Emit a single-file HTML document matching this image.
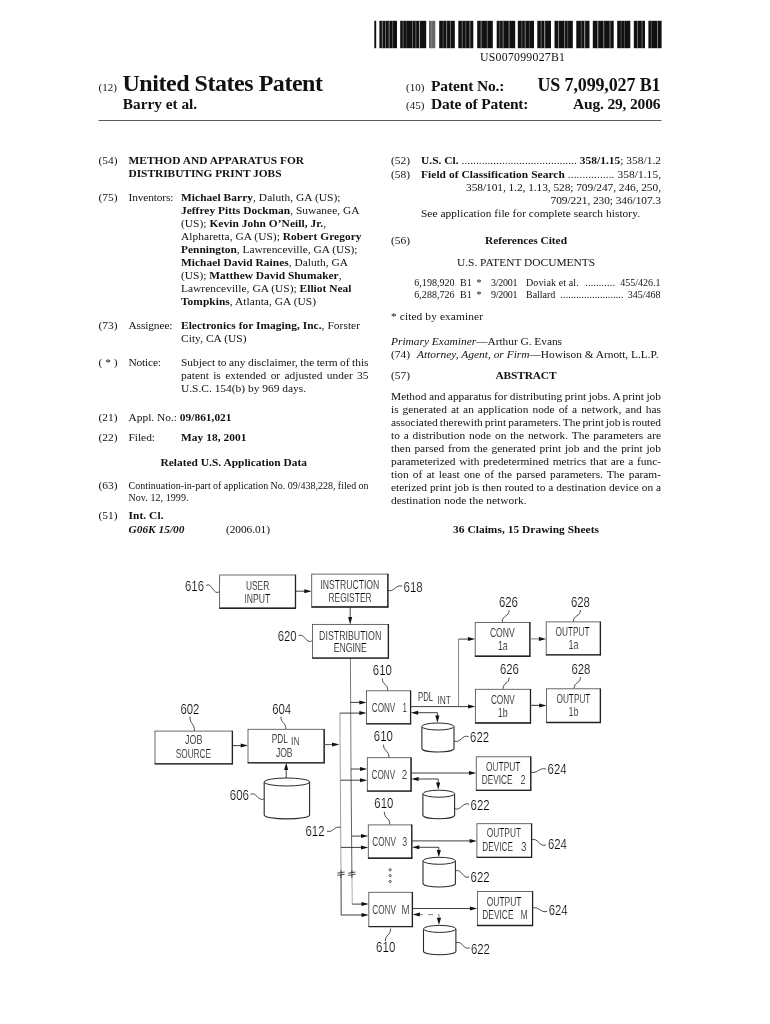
<!DOCTYPE html>
<html><head><meta charset="utf-8"><title>US 7,099,027 B1</title>
<style>
html,body{margin:0;padding:0;background:#fff;}
body{width:770px;height:1024px;overflow:hidden;font-family:"Liberation Serif",serif;}
svg{display:block;will-change:transform;filter:grayscale(1);}
svg text{font-family:"Liberation Serif",serif;fill:#111;white-space:pre;}
svg .d text{font-family:"Liberation Sans",sans-serif;fill:#000;stroke:#fff;stroke-width:0.22px;}
</style></head><body>
<svg width="770" height="1024" viewBox="0 0 770 1024">
<rect width="770" height="1024" fill="#fff"/>
<g><rect x="374.3" y="20.8" width="1.9" height="27.4" fill="#111"/><rect x="379.4" y="20.8" width="17.6" height="27.4" fill="#111"/><rect x="381.9" y="20.8" width="0.8" height="27.4" fill="#fff" opacity="0.6"/><rect x="385.3" y="20.8" width="0.6" height="27.4" fill="#fff" opacity="0.6"/><rect x="388.7" y="20.8" width="0.8" height="27.4" fill="#fff" opacity="0.6"/><rect x="392.1" y="20.8" width="1.0" height="27.4" fill="#fff" opacity="0.3"/><rect x="400.2" y="20.8" width="26.0" height="27.4" fill="#111"/><rect x="402.7" y="20.8" width="0.8" height="27.4" fill="#fff" opacity="0.45"/><rect x="406.1" y="20.8" width="0.6" height="27.4" fill="#fff" opacity="0.3"/><rect x="412.2" y="20.8" width="0.6" height="27.4" fill="#fff" opacity="0.6"/><rect x="415.6" y="20.8" width="0.6" height="27.4" fill="#fff" opacity="0.6"/><rect x="419.0" y="20.8" width="1.0" height="27.4" fill="#fff" opacity="0.6"/><rect x="429" y="20.8" width="6.3" height="27.4" fill="#666"/><rect x="431.5" y="20.8" width="0.6" height="27.4" fill="#fff" opacity="0.3"/><rect x="439.2" y="20.8" width="15.6" height="27.4" fill="#111"/><rect x="442.7" y="20.8" width="0.8" height="27.4" fill="#fff" opacity="0.3"/><rect x="446.1" y="20.8" width="1.0" height="27.4" fill="#fff" opacity="0.45"/><rect x="450.4" y="20.8" width="0.6" height="27.4" fill="#fff" opacity="0.6"/><rect x="458.3" y="20.8" width="15.0" height="27.4" fill="#111"/><rect x="461.8" y="20.8" width="0.6" height="27.4" fill="#fff" opacity="0.6"/><rect x="465.2" y="20.8" width="1.0" height="27.4" fill="#fff" opacity="0.3"/><rect x="469.5" y="20.8" width="0.8" height="27.4" fill="#fff" opacity="0.6"/><rect x="477.2" y="20.8" width="15.6" height="27.4" fill="#111"/><rect x="480.7" y="20.8" width="0.8" height="27.4" fill="#fff" opacity="0.6"/><rect x="486.8" y="20.8" width="0.8" height="27.4" fill="#fff" opacity="0.45"/><rect x="496.7" y="20.8" width="18.5" height="27.4" fill="#111"/><rect x="499.2" y="20.8" width="1.0" height="27.4" fill="#fff" opacity="0.3"/><rect x="502.6" y="20.8" width="1.0" height="27.4" fill="#fff" opacity="0.45"/><rect x="508.7" y="20.8" width="0.8" height="27.4" fill="#fff" opacity="0.6"/><rect x="517.8" y="20.8" width="16.2" height="27.4" fill="#111"/><rect x="521.3" y="20.8" width="1.0" height="27.4" fill="#fff" opacity="0.3"/><rect x="524.7" y="20.8" width="1.0" height="27.4" fill="#fff" opacity="0.45"/><rect x="529.0" y="20.8" width="0.8" height="27.4" fill="#fff" opacity="0.3"/><rect x="537.3" y="20.8" width="13.7" height="27.4" fill="#111"/><rect x="540.8" y="20.8" width="0.6" height="27.4" fill="#fff" opacity="0.6"/><rect x="544.2" y="20.8" width="1.0" height="27.4" fill="#fff" opacity="0.6"/><rect x="554.5" y="20.8" width="18.3" height="27.4" fill="#111"/><rect x="558.0" y="20.8" width="1.0" height="27.4" fill="#fff" opacity="0.45"/><rect x="564.1" y="20.8" width="1.0" height="27.4" fill="#fff" opacity="0.45"/><rect x="567.5" y="20.8" width="0.6" height="27.4" fill="#fff" opacity="0.45"/><rect x="576.3" y="20.8" width="13.2" height="27.4" fill="#111"/><rect x="580.8" y="20.8" width="1.0" height="27.4" fill="#fff" opacity="0.3"/><rect x="584.2" y="20.8" width="1.0" height="27.4" fill="#fff" opacity="0.6"/><rect x="592.8" y="20.8" width="20.9" height="27.4" fill="#111"/><rect x="597.3" y="20.8" width="1.0" height="27.4" fill="#fff" opacity="0.6"/><rect x="603.4" y="20.8" width="0.8" height="27.4" fill="#fff" opacity="0.6"/><rect x="609.5" y="20.8" width="1.0" height="27.4" fill="#fff" opacity="0.45"/><rect x="617.2" y="20.8" width="13.1" height="27.4" fill="#111"/><rect x="620.7" y="20.8" width="0.8" height="27.4" fill="#fff" opacity="0.3"/><rect x="624.1" y="20.8" width="0.8" height="27.4" fill="#fff" opacity="0.3"/><rect x="633.8" y="20.8" width="11.2" height="27.4" fill="#111"/><rect x="637.3" y="20.8" width="0.6" height="27.4" fill="#fff" opacity="0.6"/><rect x="641.6" y="20.8" width="0.8" height="27.4" fill="#fff" opacity="0.45"/><rect x="648.4" y="20.8" width="13.2" height="27.4" fill="#111"/><rect x="650.9" y="20.8" width="0.6" height="27.4" fill="#fff" opacity="0.45"/><rect x="657.0" y="20.8" width="1.0" height="27.4" fill="#fff" opacity="0.45"/></g>
<text x="522.5" y="60.6" font-size="11.8" textLength="85" lengthAdjust="spacing" text-anchor="middle">US007099027B1</text>
<text x="98.5" y="90.6" font-size="11">(12)</text>
<text x="122.5" y="90.7" font-size="24" textLength="200.5" lengthAdjust="spacing" font-weight="bold">United States Patent</text>
<text x="122.8" y="109.1" font-size="15.3" font-weight="bold">Barry et al.</text>
<text x="406" y="90.6" font-size="11">(10)</text>
<text x="431" y="90.6" font-size="15.5" textLength="73.5" lengthAdjust="spacing" font-weight="bold">Patent No.:</text>
<text x="537.5" y="90.6" font-size="18" textLength="123" lengthAdjust="spacing" font-weight="bold">US 7,099,027 B1</text>
<text x="406" y="109" font-size="11">(45)</text>
<text x="431" y="109" font-size="15.5" textLength="97.5" lengthAdjust="spacing" font-weight="bold">Date of Patent:</text>
<text x="573" y="109" font-size="15.5" textLength="87.5" lengthAdjust="spacing" font-weight="bold">Aug. 29, 2006</text>
<rect x="98.5" y="120.05" width="563" height="0.9" fill="#4a4a4a"/>
<text x="98.5" y="164" font-size="11.4">(54)</text>
<text x="128.5" y="164" font-size="11.4" textLength="175.5" lengthAdjust="spacing"><tspan font-weight="bold">METHOD AND APPARATUS FOR</tspan></text>
<text x="128.5" y="177" font-size="11.4" textLength="153" lengthAdjust="spacing"><tspan font-weight="bold">DISTRIBUTING PRINT JOBS</tspan></text>
<text x="98.5" y="201" font-size="11.4">(75)</text>
<text x="128.5" y="201" font-size="11.4" textLength="45" lengthAdjust="spacing">Inventors:</text>
<text x="181" y="201" font-size="11.4" textLength="159.5" lengthAdjust="spacing"><tspan font-weight="bold">Michael Barry</tspan>, Daluth, GA (US);</text>
<text x="181" y="214" font-size="11.4" textLength="178.5" lengthAdjust="spacing"><tspan font-weight="bold">Jeffrey Pitts Dockman</tspan>, Suwanee, GA</text>
<text x="181" y="227" font-size="11.4" textLength="145" lengthAdjust="spacing">(US); <tspan font-weight="bold">Kevin John O’Neill, Jr.</tspan>,</text>
<text x="181" y="240" font-size="11.4" textLength="180.5" lengthAdjust="spacing">Alpharetta, GA (US); <tspan font-weight="bold">Robert Gregory</tspan></text>
<text x="181" y="253" font-size="11.4" textLength="176.5" lengthAdjust="spacing"><tspan font-weight="bold">Pennington</tspan>, Lawrenceville, GA (US);</text>
<text x="181" y="266" font-size="11.4" textLength="167" lengthAdjust="spacing"><tspan font-weight="bold">Michael David Raines</tspan>, Daluth, GA</text>
<text x="181" y="278.5" font-size="11.4" textLength="160.5" lengthAdjust="spacing">(US); <tspan font-weight="bold">Matthew David Shumaker</tspan>,</text>
<text x="181" y="291.5" font-size="11.4" textLength="170.5" lengthAdjust="spacing">Lawrenceville, GA (US); <tspan font-weight="bold">Elliot Neal</tspan></text>
<text x="181" y="304.5" font-size="11.4" textLength="135" lengthAdjust="spacing"><tspan font-weight="bold">Tompkins</tspan>, Atlanta, GA (US)</text>
<text x="98.5" y="329" font-size="11.4">(73)</text>
<text x="128.5" y="329" font-size="11.4" textLength="44" lengthAdjust="spacing">Assignee:</text>
<text x="181" y="329" font-size="11.4" textLength="179" lengthAdjust="spacing"><tspan font-weight="bold">Electronics for Imaging, Inc.</tspan>, Forster</text>
<text x="181" y="342" font-size="11.4" textLength="65.5" lengthAdjust="spacing">City, CA (US)</text>
<text x="98.5" y="365.7" font-size="11.4">( * )</text>
<text x="128.5" y="365.7" font-size="11.4" textLength="32.5" lengthAdjust="spacing">Notice:</text>
<text x="181" y="365.7" font-size="11.4" word-spacing="-0.38" textLength="187.5" lengthAdjust="spacing">Subject to any disclaimer, the term of this</text>
<text x="181" y="378.7" font-size="11.4" word-spacing="1.49" textLength="187.5" lengthAdjust="spacing">patent is extended or adjusted under 35</text>
<text x="181" y="391.8" font-size="11.4" textLength="125" lengthAdjust="spacing">U.S.C. 154(b) by 969 days.</text>
<text x="98.5" y="421" font-size="11.4">(21)</text>
<text x="128.5" y="421" font-size="11.4" textLength="103" lengthAdjust="spacing">Appl. No.: <tspan font-weight="bold">09/861,021</tspan></text>
<text x="98.5" y="441" font-size="11.4">(22)</text>
<text x="128.5" y="441" font-size="11.4" textLength="26.5" lengthAdjust="spacing">Filed:</text>
<text x="181" y="441" font-size="11.4" textLength="65.5" lengthAdjust="spacing"><tspan font-weight="bold">May 18, 2001</tspan></text>
<text x="160.5" y="465.5" font-size="11.4" textLength="146.5" lengthAdjust="spacing"><tspan font-weight="bold">Related U.S. Application Data</tspan></text>
<text x="98.5" y="489.4" font-size="11.4">(63)</text>
<text x="128.5" y="489.4" font-size="10" word-spacing="-0.13" textLength="240.0" lengthAdjust="spacing">Continuation-in-part of application No. 09/438,228, filed on</text>
<text x="128.5" y="500.5" font-size="10" textLength="60" lengthAdjust="spacing">Nov. 12, 1999.</text>
<text x="98.5" y="519.4" font-size="11.4">(51)</text>
<text x="128.5" y="519.4" font-size="11.4" textLength="35" lengthAdjust="spacing"><tspan font-weight="bold">Int. Cl.</tspan></text>
<text x="128.5" y="532.5" font-size="11.4" textLength="56" lengthAdjust="spacing"><tspan font-weight="bold" font-style="italic">G06K 15/00</tspan></text>
<text x="226" y="532.5" font-size="11.4" textLength="44" lengthAdjust="spacing">(2006.01)</text>
<text x="391" y="163.5" font-size="11.4">(52)</text>
<text x="421" y="163.5" font-size="11.4" textLength="240" lengthAdjust="spacing"><tspan font-weight="bold">U.S. Cl.</tspan> ........................................ <tspan font-weight="bold">358/1.15</tspan>; 358/1.2</text>
<text x="391" y="177.5" font-size="11.4">(58)</text>
<text x="421" y="177.5" font-size="11.4" textLength="240" lengthAdjust="spacing"><tspan font-weight="bold">Field of Classification Search</tspan> ................ 358/1.15,</text>
<text x="466" y="191" font-size="11.4" textLength="195" lengthAdjust="spacing">358/101, 1.2, 1.13, 528; 709/247, 246, 250,</text>
<text x="550.6" y="204" font-size="11.4" textLength="110.4" lengthAdjust="spacing">709/221, 230; 346/107.3</text>
<text x="421" y="217" font-size="11.4" textLength="219" lengthAdjust="spacing">See application file for complete search history.</text>
<text x="391" y="244" font-size="11.4">(56)</text>
<text x="485" y="244" font-size="11.4" textLength="82" lengthAdjust="spacing"><tspan font-weight="bold">References Cited</tspan></text>
<text x="457" y="266.3" font-size="11.4" textLength="138" lengthAdjust="spacing">U.S. PATENT DOCUMENTS</text>
<text x="414.3" y="285.8" font-size="10" textLength="40.2" lengthAdjust="spacing">6,198,920</text>
<text x="460" y="285.8" font-size="10">B1</text>
<text x="476.5" y="285.8" font-size="10">*</text>
<text x="491" y="285.8" font-size="10" textLength="26.5" lengthAdjust="spacing">3/2001</text>
<text x="526" y="285.8" font-size="10" textLength="52.700000000000045" lengthAdjust="spacing">Doviak et al.</text>
<text x="585.3" y="285.8" font-size="10" textLength="29.600000000000023" lengthAdjust="spacing">...........</text>
<text x="660.5" y="285.8" font-size="10" text-anchor="end">455/426.1</text>
<text x="414.3" y="297.6" font-size="10" textLength="40.2" lengthAdjust="spacing">6,288,726</text>
<text x="460" y="297.6" font-size="10">B1</text>
<text x="476.5" y="297.6" font-size="10">*</text>
<text x="491" y="297.6" font-size="10" textLength="26.5" lengthAdjust="spacing">9/2001</text>
<text x="526" y="297.6" font-size="10" textLength="29.299999999999955" lengthAdjust="spacing">Ballard</text>
<text x="560.4" y="297.6" font-size="10" textLength="63.10000000000002" lengthAdjust="spacing">........................</text>
<text x="660.5" y="297.6" font-size="10" text-anchor="end">345/468</text>
<text x="391" y="320" font-size="11.4" textLength="92" lengthAdjust="spacing">* cited by examiner</text>
<text x="391" y="344.5" font-size="11.4" textLength="85.2" lengthAdjust="spacing"><tspan font-style="italic">Primary Examiner</tspan></text>
<text x="476.2" y="344.5" font-size="11.4" textLength="85.8" lengthAdjust="spacing">—Arthur G. Evans</text>
<text x="391" y="357.5" font-size="11.4">(74)</text>
<text x="417" y="357.5" font-size="11.4" textLength="112.5" lengthAdjust="spacing"><tspan font-style="italic">Attorney, Agent, or Firm</tspan></text>
<text x="529.5" y="357.5" font-size="11.4" textLength="129" lengthAdjust="spacing">—Howison &amp; Arnott, L.L.P.</text>
<text x="391" y="378.5" font-size="11.4">(57)</text>
<text x="495.5" y="378.5" font-size="11.4" textLength="61" lengthAdjust="spacing"><tspan font-weight="bold">ABSTRACT</tspan></text>
<text x="391" y="399.5" font-size="11.4" word-spacing="-0.40" textLength="270" lengthAdjust="spacing">Method and apparatus for distributing print jobs. A print job</text>
<text x="391" y="412.5" font-size="11.4" word-spacing="1.14" textLength="270" lengthAdjust="spacing">is generated at an application node of a network, and has</text>
<text x="391" y="425.5" font-size="11.4" word-spacing="-0.90" textLength="270" lengthAdjust="spacingAndGlyphs">associated therewith print parameters. The print job is routed</text>
<text x="391" y="438.5" font-size="11.4" word-spacing="0.97" textLength="270" lengthAdjust="spacing">to a distribution node on the network. The parameters are</text>
<text x="391" y="451.5" font-size="11.4" word-spacing="0.91" textLength="270" lengthAdjust="spacing">then parsed from the generated print job and the print job</text>
<text x="391" y="464.5" font-size="11.4" word-spacing="0.82" textLength="270" lengthAdjust="spacing">parameterized with predetermined metrics that are a func-</text>
<text x="391" y="478" font-size="11.4" word-spacing="1.29" textLength="270" lengthAdjust="spacing">tion of at least one of the parsed parameters. The param-</text>
<text x="391" y="490.5" font-size="11.4" word-spacing="-0.00" textLength="270" lengthAdjust="spacing">eterized print job is then routed to a destination device on a</text>
<text x="391" y="503.5" font-size="11.4" word-spacing="0.21" textLength="135.5" lengthAdjust="spacing">destination node the network.</text>
<text x="453" y="533" font-size="11.4" textLength="146" lengthAdjust="spacing"><tspan font-weight="bold">36 Claims, 15 Drawing Sheets</tspan></text>
<g class="d"><line x1="350.4" y1="658" x2="351.0" y2="769" stroke="#555" stroke-width="0.8"/>
<line x1="351.0" y1="769" x2="351.9" y2="873" stroke="#444" stroke-width="0.85"/>
<line x1="351.9" y1="873" x2="352.3" y2="904.2" stroke="#999" stroke-width="0.8"/>
<line x1="339.9" y1="713.1" x2="341.0" y2="873" stroke="#888" stroke-width="0.8"/>
<line x1="341.0" y1="873" x2="341.2" y2="915.2" stroke="#333" stroke-width="0.9"/>
<rect x="219.6" y="575" width="75.8" height="33.1" fill="#fff" stroke="#505050" stroke-width="0.85"/>
<line x1="219.29999999999998" y1="608.2" x2="296.0" y2="608.2" stroke="#222" stroke-width="1.35"/>
<line x1="295.5" y1="574.7" x2="295.5" y2="608.7" stroke="#222" stroke-width="1.3"/>
<text x="246" y="589.7" font-size="13.6" textLength="23.2" lengthAdjust="spacingAndGlyphs">USER</text>
<text x="244.3" y="602.9" font-size="12.7" textLength="25.9" lengthAdjust="spacingAndGlyphs">INPUT</text>
<text x="185" y="591.2" font-size="14.2" textLength="19.0" lengthAdjust="spacingAndGlyphs">616</text>
<path d="M206.2,585.4 C212.0,581.8 213.3,595.5 219.1,591.9" fill="none" stroke="#2a2a2a" stroke-width="0.85"/>
<line x1="295.4" y1="591.2" x2="306" y2="591.2" stroke="#2a2a2a" stroke-width="0.9"/>
<polygon points="311.6,591.2 304.3,589.2 304.3,593.2" fill="#111"/>
<rect x="311.7" y="574.1" width="76.1" height="32.8" fill="#fff" stroke="#505050" stroke-width="0.85"/>
<line x1="311.4" y1="607.0" x2="388.40000000000003" y2="607.0" stroke="#222" stroke-width="1.35"/>
<line x1="387.90000000000003" y1="573.8000000000001" x2="387.90000000000003" y2="607.5" stroke="#222" stroke-width="1.3"/>
<text x="320.4" y="588.9" font-size="12.7" textLength="58.9" lengthAdjust="spacingAndGlyphs">INSTRUCTION</text>
<text x="328.5" y="601.9" font-size="12.7" textLength="43.1" lengthAdjust="spacingAndGlyphs">REGISTER</text>
<text x="403.5" y="592.4" font-size="14.2" textLength="19.2" lengthAdjust="spacingAndGlyphs">618</text>
<path d="M387.8,590.4 C394.3,592.7 395.7,583.9 402.2,586.2" fill="none" stroke="#2a2a2a" stroke-width="0.85"/>
<line x1="350.2" y1="606.9" x2="350.2" y2="619" stroke="#2a2a2a" stroke-width="0.9"/>
<polygon points="350.2,624.4 348.1,617.1 352.2,617.1" fill="#111"/>
<rect x="312.5" y="624.4" width="75.8" height="33.6" fill="#fff" stroke="#505050" stroke-width="0.85"/>
<line x1="312.2" y1="658.1" x2="388.90000000000003" y2="658.1" stroke="#222" stroke-width="1.35"/>
<line x1="388.40000000000003" y1="624.1" x2="388.40000000000003" y2="658.6" stroke="#222" stroke-width="1.3"/>
<text x="319.1" y="639.8" font-size="12.7" textLength="62.2" lengthAdjust="spacingAndGlyphs">DISTRIBUTION</text>
<text x="333.7" y="651.5" font-size="12.7" textLength="33.1" lengthAdjust="spacingAndGlyphs">ENGINE</text>
<text x="277.7" y="640.5" font-size="14.2" textLength="19.0" lengthAdjust="spacingAndGlyphs">620</text>
<path d="M298.4,635.6 C304.4,632.6 305.8,644.0 311.8,641" fill="none" stroke="#2a2a2a" stroke-width="0.85"/>
<line x1="458.6" y1="706.6" x2="458.5" y2="639.1" stroke="#666" stroke-width="0.8"/>
<line x1="458.5" y1="639.1" x2="470" y2="639.1" stroke="#2a2a2a" stroke-width="0.9"/>
<polygon points="475.2,639.1 467.9,637.1 467.9,641.1" fill="#111"/>
<rect x="475.2" y="622.4" width="54.6" height="33.7" fill="#fff" stroke="#505050" stroke-width="0.85"/>
<line x1="474.9" y1="656.2" x2="530.4" y2="656.2" stroke="#222" stroke-width="1.35"/>
<line x1="529.9" y1="622.1" x2="529.9" y2="656.7" stroke="#222" stroke-width="1.3"/>
<text x="489.9" y="636.9" font-size="12.7" textLength="24.9" lengthAdjust="spacingAndGlyphs">CONV</text>
<text x="497.9" y="650.1" font-size="12.7" textLength="9.9" lengthAdjust="spacingAndGlyphs">1a</text>
<text x="498.9" y="606.7" font-size="14.2" textLength="19.0" lengthAdjust="spacingAndGlyphs">626</text>
<path d="M509.1,610.2 C509.1,617.05 502.3,615.05 502.3,621.9" fill="none" stroke="#2a2a2a" stroke-width="0.85"/>
<line x1="529.8" y1="638.9" x2="541" y2="638.9" stroke="#777" stroke-width="1"/>
<polygon points="546.2,638.9 538.9,636.9 538.9,640.9" fill="#111"/>
<rect x="546.2" y="621.9" width="54.1" height="32.9" fill="#fff" stroke="#505050" stroke-width="0.85"/>
<line x1="545.9000000000001" y1="654.9" x2="600.9" y2="654.9" stroke="#222" stroke-width="1.35"/>
<line x1="600.4" y1="621.6" x2="600.4" y2="655.4" stroke="#222" stroke-width="1.3"/>
<text x="555.5" y="636.1" font-size="12.7" textLength="34.1" lengthAdjust="spacingAndGlyphs">OUTPUT</text>
<text x="568.4" y="649.3" font-size="12.7" textLength="10.0" lengthAdjust="spacingAndGlyphs">1a</text>
<text x="570.9" y="606.7" font-size="14.2" textLength="19.0" lengthAdjust="spacingAndGlyphs">628</text>
<path d="M580.4,610 C580.4,616.8 573.4,614.8 573.4,621.6" fill="none" stroke="#2a2a2a" stroke-width="0.85"/>
<rect x="475.4" y="689.3" width="55.0" height="33.6" fill="#fff" stroke="#505050" stroke-width="0.85"/>
<line x1="475.09999999999997" y1="723.0" x2="531.0" y2="723.0" stroke="#222" stroke-width="1.35"/>
<line x1="530.5" y1="689.0" x2="530.5" y2="723.5" stroke="#222" stroke-width="1.3"/>
<text x="490.9" y="703.8" font-size="12.7" textLength="23.9" lengthAdjust="spacingAndGlyphs">CONV</text>
<text x="497.8" y="716.6" font-size="12.7" textLength="9.9" lengthAdjust="spacingAndGlyphs">1b</text>
<text x="499.9" y="674.3" font-size="14.2" textLength="19.0" lengthAdjust="spacingAndGlyphs">626</text>
<path d="M509.1,677.6 C509.1,684.2 503.1,682.2 503.1,688.8" fill="none" stroke="#2a2a2a" stroke-width="0.85"/>
<line x1="530.4" y1="705.4" x2="541" y2="705.4" stroke="#555" stroke-width="1.2"/>
<polygon points="546.5,705.4 539.2,703.4 539.2,707.4" fill="#111"/>
<rect x="546.5" y="688.8" width="53.8" height="33.6" fill="#fff" stroke="#505050" stroke-width="0.85"/>
<line x1="546.2" y1="722.5" x2="600.9" y2="722.5" stroke="#222" stroke-width="1.35"/>
<line x1="600.4" y1="688.5" x2="600.4" y2="723.0" stroke="#222" stroke-width="1.3"/>
<text x="556.5" y="703.2" font-size="12.7" textLength="33.9" lengthAdjust="spacingAndGlyphs">OUTPUT</text>
<text x="568.6" y="715.9" font-size="12.7" textLength="10.0" lengthAdjust="spacingAndGlyphs">1b</text>
<text x="571.4" y="673.8" font-size="14.2" textLength="19.0" lengthAdjust="spacingAndGlyphs">628</text>
<path d="M580.4,677.3 C580.4,683.8 574.2,681.8 574.2,688.3" fill="none" stroke="#2a2a2a" stroke-width="0.85"/>
<rect x="155" y="731.1" width="77.3" height="32.7" fill="#fff" stroke="#505050" stroke-width="0.85"/>
<line x1="154.7" y1="763.9" x2="232.9" y2="763.9" stroke="#222" stroke-width="1.35"/>
<line x1="232.4" y1="730.8000000000001" x2="232.4" y2="764.4" stroke="#222" stroke-width="1.3"/>
<text x="184.9" y="744.4" font-size="12.7" textLength="17.5" lengthAdjust="spacingAndGlyphs">JOB</text>
<text x="175.7" y="757.8" font-size="12.7" textLength="35.4" lengthAdjust="spacingAndGlyphs">SOURCE</text>
<text x="180.4" y="713.7" font-size="14.2" textLength="19.0" lengthAdjust="spacingAndGlyphs">602</text>
<path d="M189.9,716.6 C189.9,724.7 194.4,722.7 194.4,730.8" fill="none" stroke="#2a2a2a" stroke-width="0.85"/>
<line x1="232.3" y1="745.6" x2="243" y2="745.6" stroke="#2a2a2a" stroke-width="0.9"/>
<polygon points="248.0,745.6 240.7,743.6 240.7,747.6" fill="#111"/>
<rect x="248" y="729.3" width="76.1" height="33.4" fill="#fff" stroke="#505050" stroke-width="0.85"/>
<line x1="247.7" y1="762.8000000000001" x2="324.70000000000005" y2="762.8000000000001" stroke="#222" stroke-width="1.35"/>
<line x1="324.20000000000005" y1="729.0" x2="324.20000000000005" y2="763.3000000000001" stroke="#222" stroke-width="1.3"/>
<text x="271.7" y="743.1" font-size="12.7" textLength="16.2" lengthAdjust="spacingAndGlyphs">PDL</text>
<text x="291.1" y="745.4" font-size="11.6" textLength="8.5" lengthAdjust="spacingAndGlyphs">IN</text>
<text x="275.9" y="757.1" font-size="12.7" textLength="16.7" lengthAdjust="spacingAndGlyphs">JOB</text>
<text x="272.2" y="713.7" font-size="14.2" textLength="19.0" lengthAdjust="spacingAndGlyphs">604</text>
<path d="M280.9,716.6 C280.9,723.8 285.9,721.8 285.9,729" fill="none" stroke="#2a2a2a" stroke-width="0.85"/>
<line x1="324.1" y1="744.6" x2="334" y2="744.6" stroke="#555" stroke-width="1"/>
<polygon points="339.4,744.6 332.1,742.6 332.1,746.6" fill="#111"/>
<path d="M264.2,782 L264.2,814.9 A22.7,4 0 0 0 309.6,814.9 L309.6,782" fill="#fff" stroke="#2a2a2a" stroke-width="1.1"/>
<ellipse cx="286.9" cy="782" rx="22.7" ry="4" fill="#fff" stroke="#2a2a2a" stroke-width="1"/>
<line x1="286.2" y1="778" x2="286.2" y2="768" stroke="#2a2a2a" stroke-width="0.9"/>
<polygon points="286.2,762.7 284.1,770.0 288.2,770.0" fill="#111"/>
<text x="229.8" y="799.7" font-size="14.2" textLength="19.2" lengthAdjust="spacingAndGlyphs">606</text>
<path d="M250.5,794.2 C256.5,791.6 257.8,801.6 263.8,799" fill="none" stroke="#2a2a2a" stroke-width="0.85"/>
<line x1="350.6" y1="702.4" x2="361" y2="702.4" stroke="#2a2a2a" stroke-width="0.9"/>
<polygon points="366.6,702.4 359.3,700.4 359.3,704.4" fill="#111"/>
<line x1="339.9" y1="713.1" x2="361" y2="713.1" stroke="#2a2a2a" stroke-width="0.9"/>
<polygon points="366.6,713.1 359.3,711.1 359.3,715.1" fill="#111"/>
<rect x="366.5" y="690.8" width="44.0" height="32.9" fill="#fff" stroke="#505050" stroke-width="0.85"/>
<line x1="366.2" y1="723.8000000000001" x2="411.1" y2="723.8000000000001" stroke="#222" stroke-width="1.35"/>
<line x1="410.6" y1="690.5" x2="410.6" y2="724.3000000000001" stroke="#222" stroke-width="1.3"/>
<text x="371.8" y="711.9" font-size="12.7" textLength="23.5" lengthAdjust="spacingAndGlyphs">CONV</text>
<text x="402.7" y="711.9" font-size="12.7" textLength="4.0" lengthAdjust="spacingAndGlyphs">1</text>
<text x="372.8" y="674.5" font-size="14.2" textLength="19.0" lengthAdjust="spacingAndGlyphs">610</text>
<path d="M382.3,678.4 C382.3,685.4 387.8,683.4 387.8,690.4" fill="none" stroke="#2a2a2a" stroke-width="0.85"/>
<text x="418" y="701.2" font-size="11.9" textLength="15.2" lengthAdjust="spacingAndGlyphs">PDL</text>
<text x="437.4" y="704.2" font-size="11.3" textLength="13.5" lengthAdjust="spacingAndGlyphs">INT</text>
<line x1="410.5" y1="706.6" x2="470" y2="706.6" stroke="#2a2a2a" stroke-width="0.9"/>
<polygon points="475.4,706.6 468.1,704.6 468.1,708.6" fill="#111"/>
<polyline points="416,712.7 437.4,712.7 437.4,717.5" fill="none" stroke="#2a2a2a" stroke-width="0.9"/>
<polygon points="410.8,712.7 418.1,710.7 418.1,714.8" fill="#111"/>
<polygon points="437.4,722.8 435.3,715.5 439.4,715.5" fill="#111"/>
<path d="M421.9,726.5 L421.9,748.8 A16.1,3.5 0 0 0 454,748.8 L454,726.5" fill="#fff" stroke="#2a2a2a" stroke-width="1.1"/>
<ellipse cx="437.9" cy="726.5" rx="16.1" ry="3.5" fill="#fff" stroke="#2a2a2a" stroke-width="1"/>
<text x="470.1" y="741.7" font-size="14.2" textLength="19.0" lengthAdjust="spacingAndGlyphs">622</text>
<path d="M454,741.1 C460.6,743.6 462.0,734.1 468.6,736.6" fill="none" stroke="#2a2a2a" stroke-width="0.85"/>
<line x1="351" y1="769" x2="362" y2="769" stroke="#2a2a2a" stroke-width="0.9"/>
<polygon points="367.3,769.0 360.0,767.0 360.0,771.0" fill="#111"/>
<line x1="340.6" y1="780.2" x2="362" y2="780.2" stroke="#2a2a2a" stroke-width="0.9"/>
<polygon points="367.3,780.2 360.0,778.2 360.0,782.2" fill="#111"/>
<rect x="367.3" y="757.7" width="43.7" height="33.3" fill="#fff" stroke="#505050" stroke-width="0.85"/>
<line x1="367.0" y1="791.1" x2="411.6" y2="791.1" stroke="#222" stroke-width="1.35"/>
<line x1="411.1" y1="757.4000000000001" x2="411.1" y2="791.6" stroke="#222" stroke-width="1.3"/>
<text x="371.6" y="778.7" font-size="12.7" textLength="23.6" lengthAdjust="spacingAndGlyphs">CONV</text>
<text x="401.7" y="778.7" font-size="12.7" textLength="5.5" lengthAdjust="spacingAndGlyphs">2</text>
<text x="373.8" y="741" font-size="14.2" textLength="19.0" lengthAdjust="spacingAndGlyphs">610</text>
<path d="M383.5,744.6 C383.5,751.95 389,749.95 389,757.3" fill="none" stroke="#2a2a2a" stroke-width="0.85"/>
<line x1="411" y1="773" x2="471" y2="773" stroke="#2a2a2a" stroke-width="0.9"/>
<polygon points="476.3,773.0 469.0,771.0 469.0,775.0" fill="#111"/>
<polyline points="416.5,779 438.2,779 438.2,784.5" fill="none" stroke="#2a2a2a" stroke-width="0.9"/>
<polygon points="411.3,779.0 418.6,777.0 418.6,781.0" fill="#111"/>
<polygon points="438.2,789.8 436.1,782.5 440.2,782.5" fill="#111"/>
<path d="M422.9,793.7 L422.9,815.5 A15.9,3.5 0 0 0 454.6,815.5 L454.6,793.7" fill="#fff" stroke="#2a2a2a" stroke-width="1.1"/>
<ellipse cx="438.8" cy="793.7" rx="15.9" ry="3.5" fill="#fff" stroke="#2a2a2a" stroke-width="1"/>
<text x="470.6" y="809.6" font-size="14.2" textLength="19.0" lengthAdjust="spacingAndGlyphs">622</text>
<path d="M454.6,808.7 C461.1,811.2 462.6,801.7 469.1,804.2" fill="none" stroke="#2a2a2a" stroke-width="0.85"/>
<rect x="476.3" y="756.8" width="54.4" height="33.4" fill="#fff" stroke="#505050" stroke-width="0.85"/>
<line x1="476.0" y1="790.3000000000001" x2="531.3000000000001" y2="790.3000000000001" stroke="#222" stroke-width="1.35"/>
<line x1="530.8000000000001" y1="756.5" x2="530.8000000000001" y2="790.8000000000001" stroke="#222" stroke-width="1.3"/>
<text x="486" y="770.7" font-size="12.7" textLength="34.4" lengthAdjust="spacingAndGlyphs">OUTPUT</text>
<text x="481.8" y="784.2" font-size="12.7" textLength="30.8" lengthAdjust="spacingAndGlyphs">DEVICE</text>
<text x="520.4" y="784.2" font-size="12.7" textLength="5.0" lengthAdjust="spacingAndGlyphs">2</text>
<text x="547.6" y="774.2" font-size="14.2" textLength="19.0" lengthAdjust="spacingAndGlyphs">624</text>
<path d="M530.7,772.2 C537.5,774.0 539.1,767.2 545.9,769" fill="none" stroke="#2a2a2a" stroke-width="0.85"/>
<line x1="351.7" y1="836.1" x2="363" y2="836.1" stroke="#2a2a2a" stroke-width="0.9"/>
<polygon points="368.3,836.1 361.0,834.1 361.0,838.1" fill="#111"/>
<line x1="340.9" y1="847.4" x2="363" y2="847.4" stroke="#2a2a2a" stroke-width="0.9"/>
<polygon points="368.3,847.4 361.0,845.4 361.0,849.4" fill="#111"/>
<rect x="368.3" y="824.9" width="43.4" height="33.2" fill="#fff" stroke="#505050" stroke-width="0.85"/>
<line x1="368.0" y1="858.2" x2="412.3" y2="858.2" stroke="#222" stroke-width="1.35"/>
<line x1="411.8" y1="824.6" x2="411.8" y2="858.7" stroke="#222" stroke-width="1.3"/>
<text x="372.3" y="846.1" font-size="12.7" textLength="23.7" lengthAdjust="spacingAndGlyphs">CONV</text>
<text x="402.3" y="846.1" font-size="12.7" textLength="4.9" lengthAdjust="spacingAndGlyphs">3</text>
<text x="374.3" y="808.2" font-size="14.2" textLength="19.0" lengthAdjust="spacingAndGlyphs">610</text>
<path d="M384.3,811.8 C384.3,819.0999999999999 389.8,817.0999999999999 389.8,824.4" fill="none" stroke="#2a2a2a" stroke-width="0.85"/>
<text x="305.5" y="835.6" font-size="14.2" textLength="19.0" lengthAdjust="spacingAndGlyphs">612</text>
<path d="M326.9,831.1 C333.1,833.1 334.4,825.4 340.6,827.4" fill="none" stroke="#2a2a2a" stroke-width="0.85"/>
<line x1="411.7" y1="840.9" x2="471.5" y2="840.9" stroke="#2a2a2a" stroke-width="0.9"/>
<polygon points="476.9,840.9 469.6,838.9 469.6,842.9" fill="#111"/>
<polyline points="417,847.3 438.8,847.3 438.8,852" fill="none" stroke="#2a2a2a" stroke-width="0.9"/>
<polygon points="412.0,847.3 419.3,845.2 419.3,849.3" fill="#111"/>
<polygon points="438.8,857.3 436.8,850.0 440.9,850.0" fill="#111"/>
<path d="M423,860.8 L423,883.5 A16.2,3.5 0 0 0 455.4,883.5 L455.4,860.8" fill="#fff" stroke="#2a2a2a" stroke-width="1.1"/>
<ellipse cx="439.2" cy="860.8" rx="16.2" ry="3.5" fill="#fff" stroke="#2a2a2a" stroke-width="1"/>
<text x="470.6" y="882.2" font-size="14.2" textLength="19.0" lengthAdjust="spacingAndGlyphs">622</text>
<path d="M455.4,871 C461.6,867.8 462.9,880.0 469.1,876.8" fill="none" stroke="#2a2a2a" stroke-width="0.85"/>
<rect x="476.9" y="823.7" width="54.6" height="33.6" fill="#fff" stroke="#505050" stroke-width="0.85"/>
<line x1="476.59999999999997" y1="857.4" x2="532.1" y2="857.4" stroke="#222" stroke-width="1.35"/>
<line x1="531.6" y1="823.4000000000001" x2="531.6" y2="857.9" stroke="#222" stroke-width="1.3"/>
<text x="486.8" y="837.4" font-size="12.7" textLength="34.2" lengthAdjust="spacingAndGlyphs">OUTPUT</text>
<text x="482.3" y="851.3" font-size="12.7" textLength="30.7" lengthAdjust="spacingAndGlyphs">DEVICE</text>
<text x="521" y="851.3" font-size="12.7" textLength="5.5" lengthAdjust="spacingAndGlyphs">3</text>
<text x="547.9" y="848.6" font-size="14.2" textLength="19.0" lengthAdjust="spacingAndGlyphs">624</text>
<path d="M531.5,839.9 C538.0,837.1 539.4,847.6 545.9,844.9" fill="none" stroke="#2a2a2a" stroke-width="0.85"/>
<circle cx="390.2" cy="869.8" r="1.1" fill="#fff" stroke="#2a2a2a" stroke-width="0.8"/>
<circle cx="390.2" cy="875.6" r="1.1" fill="#fff" stroke="#2a2a2a" stroke-width="0.8"/>
<circle cx="390.2" cy="881.5" r="1.1" fill="#fff" stroke="#2a2a2a" stroke-width="0.8"/>
<rect x="339.0" y="872.3" width="4" height="2.6" fill="#fff"/>
<line x1="337.4" y1="873.2" x2="344.6" y2="872.0" stroke="#2a2a2a" stroke-width="0.9"/>
<line x1="337.4" y1="875.4" x2="344.6" y2="874.2" stroke="#2a2a2a" stroke-width="0.9"/>
<line x1="341.0" y1="870" x2="341.0" y2="878" stroke="#2a2a2a" stroke-width="0.8"/>
<rect x="349.9" y="872.3" width="4" height="2.6" fill="#fff"/>
<line x1="348.29999999999995" y1="873.2" x2="355.5" y2="872.0" stroke="#2a2a2a" stroke-width="0.9"/>
<line x1="348.29999999999995" y1="875.4" x2="355.5" y2="874.2" stroke="#2a2a2a" stroke-width="0.9"/>
<line x1="351.9" y1="870" x2="351.9" y2="878" stroke="#2a2a2a" stroke-width="0.8"/>
<polyline points="352.3,904.1 363.5,904.1" fill="none" stroke="#2a2a2a" stroke-width="0.9"/>
<polygon points="368.8,904.1 361.5,902.1 361.5,906.1" fill="#111"/>
<polyline points="341.2,915.0 363.5,915.0" fill="none" stroke="#2a2a2a" stroke-width="0.9"/>
<polygon points="368.8,915.0 361.5,913.0 361.5,917.0" fill="#111"/>
<rect x="368.8" y="892.3" width="43.5" height="34.2" fill="#fff" stroke="#505050" stroke-width="0.85"/>
<line x1="368.5" y1="926.6" x2="412.90000000000003" y2="926.6" stroke="#222" stroke-width="1.35"/>
<line x1="412.40000000000003" y1="892.0" x2="412.40000000000003" y2="927.1" stroke="#222" stroke-width="1.3"/>
<text x="372.3" y="913.9" font-size="12.7" textLength="23.7" lengthAdjust="spacingAndGlyphs">CONV</text>
<text x="401.5" y="913.9" font-size="12.7" textLength="8.2" lengthAdjust="spacingAndGlyphs">M</text>
<text x="376.1" y="952.3" font-size="14.2" textLength="19.2" lengthAdjust="spacingAndGlyphs">610</text>
<path d="M390.6,928.6 C390.6,935.95 385.4,933.95 385.4,941.3" fill="none" stroke="#2a2a2a" stroke-width="0.85"/>
<line x1="412.3" y1="908.5" x2="471.8" y2="908.5" stroke="#2a2a2a" stroke-width="0.9"/>
<polygon points="477.2,908.5 469.9,906.5 469.9,910.5" fill="#111"/>
<polyline points="418,914.6 439,914.6 439,919.5" fill="none" stroke="#777" stroke-width="0.9" stroke-dasharray="5 5"/>
<polygon points="412.6,914.6 419.9,912.6 419.9,916.6" fill="#111"/>
<polygon points="439.0,925.0 436.9,917.7 441.1,917.7" fill="#111"/>
<path d="M423.5,928.9 L423.5,951.3 A16.2,3.5 0 0 0 455.9,951.3 L455.9,928.9" fill="#fff" stroke="#2a2a2a" stroke-width="1.1"/>
<ellipse cx="439.7" cy="928.9" rx="16.2" ry="3.5" fill="#fff" stroke="#2a2a2a" stroke-width="1"/>
<text x="470.9" y="953.5" font-size="14.2" textLength="19.0" lengthAdjust="spacingAndGlyphs">622</text>
<path d="M455.9,942.8 C462.1,940.0 463.5,950.5 469.7,947.8" fill="none" stroke="#2a2a2a" stroke-width="0.85"/>
<rect x="477.4" y="891.5" width="55.1" height="33.9" fill="#fff" stroke="#505050" stroke-width="0.85"/>
<line x1="477.09999999999997" y1="925.5" x2="533.1" y2="925.5" stroke="#222" stroke-width="1.35"/>
<line x1="532.6" y1="891.2" x2="532.6" y2="926.0" stroke="#222" stroke-width="1.3"/>
<text x="486.8" y="905.7" font-size="12.7" textLength="34.7" lengthAdjust="spacingAndGlyphs">OUTPUT</text>
<text x="482.3" y="919.4" font-size="12.7" textLength="31.2" lengthAdjust="spacingAndGlyphs">DEVICE</text>
<text x="520.5" y="919.4" font-size="12.7" textLength="7.2" lengthAdjust="spacingAndGlyphs">M</text>
<text x="548.7" y="915.4" font-size="14.2" textLength="19.0" lengthAdjust="spacingAndGlyphs">624</text>
<path d="M532.5,908 C539.1,906.1 540.6,913.3 547.2,911.4" fill="none" stroke="#2a2a2a" stroke-width="0.85"/></g>
</svg>
</body></html>
